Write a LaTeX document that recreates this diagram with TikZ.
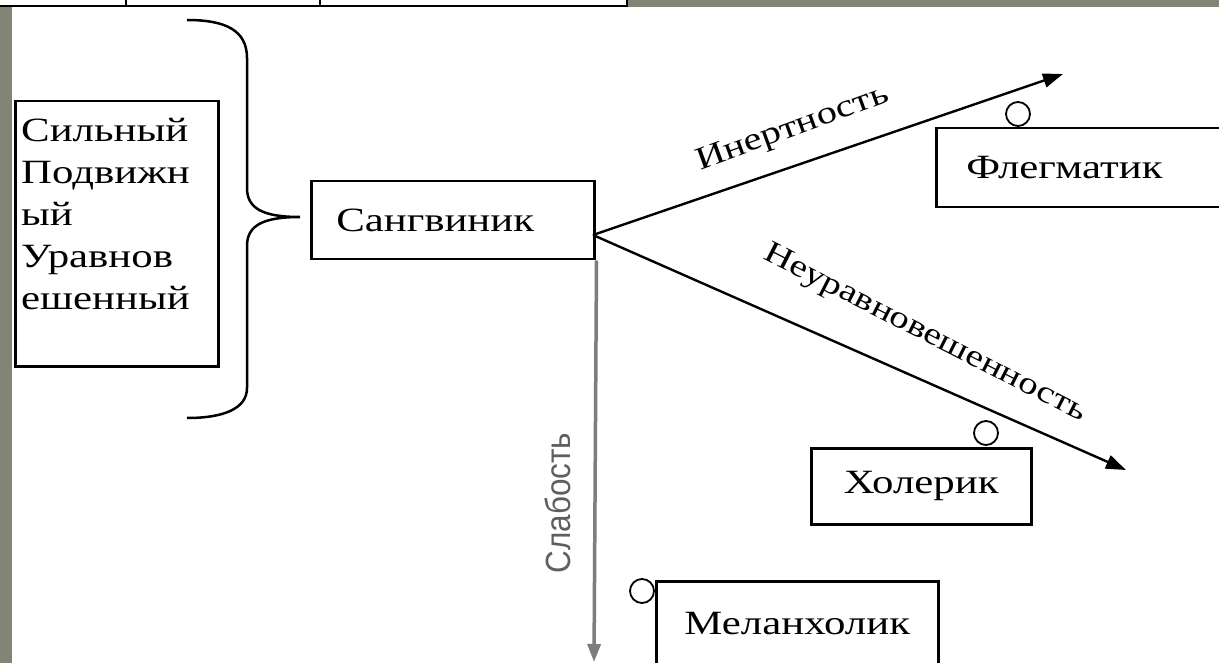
\documentclass[tikz,border=0pt]{standalone}
\usepackage{fontspec}
\setmainfont{Liberation Serif}
\newfontfamily\wideserif[FakeStretch=1.26]{Liberation Serif}
\newfontfamily\narrowsans[FakeStretch=0.9]{Liberation Sans}
\usetikzlibrary{arrows.meta}
\definecolor{framegreen}{RGB}{128,133,118}
\definecolor{arrowgray}{RGB}{125,125,125}
\definecolor{labelgray}{RGB}{95,95,95}
\begin{document}
\begin{tikzpicture}[x=1pt,y=-1pt,
  box/.style={draw, line width=2.5pt, fill=white, anchor=north west, inner sep=0pt},
  boxtext/.style={font=\wideserif\fontsize{34}{42}\selectfont},
  knob/.style={draw, circle, line width=1.8pt, fill=white, minimum size=24pt, inner sep=0pt},
  arr/.style={line width=2.4pt, -{Triangle[length=20pt,width=14pt]}},
  grayarr/.style={line width=3.5pt, arrowgray, -{Triangle[length=18pt,width=13pt]}},
  lbl/.style={font=\wideserif\fontsize{32}{32}\selectfont, inner sep=0pt}
]
\useasboundingbox (0,0) rectangle (1219,663);
\clip (0,0) rectangle (1219,663);
\fill[white] (0,0) rectangle (1219,663);
% frame of the slide
\fill[framegreen] (0,0) rectangle (1219,7);
\fill[framegreen] (0,7) rectangle (12,663);
% table fragment at the top
\fill[white] (0,0) rectangle (627,6);
\draw[line width=1.5pt] (0,6) -- (627,6);
\draw[line width=1.5pt] (126,0) -- (126,6);
\draw[line width=1.5pt] (320,0) -- (320,6);
\draw[line width=1.5pt] (627,0) -- (627,7);

% left box with qualities
\node[box, minimum width=203pt, minimum height=265pt] (qual) at (14,100) {};
\node[boxtext, anchor=north west, align=left, inner sep=0pt] (qualtext) at (21,118)
  {Сильный\\Подвижн\\ый\\Уравнов\\ешенный};

% brace
\draw[line width=2.5pt] (187,20) .. controls (225,20) and (247,30) .. (247,58)
  -- (247,188) .. controls (247,208) and (262,217) .. (300,217)
  .. controls (262,217) and (247,226) .. (247,246)
  -- (247,388) .. controls (247,408) and (225,418) .. (187,418);

% central box
\node[box, boxtext, minimum height=78pt, text width=233pt, inner xsep=25pt, align=left] (sang) at (310,180) {Сангвиник};
\coordinate (o) at (593,235);

% temperament boxes
\node[box, boxtext, minimum height=79pt, text width=262pt, inner xsep=30pt, align=left] (fleg) at (935,127) {Флегматик};
\node[box, boxtext, minimum width=220pt, minimum height=76pt] (khol) at (810,447) {Холерик};
\node[box, boxtext, minimum width=282pt, minimum height=84pt] (mel) at (655,580) {Меланхолик};

% knobs
\node[knob] (kf) at (1018,114) {};
\node[knob] (kh) at (986,433) {};
\node[knob] (km) at (642,591) {};

% arrow end points
\coordinate (tf) at (1063,74);
\coordinate (th) at (1126,470);
\coordinate (tm) at (594,662);

\draw[grayarr] (sang.south east) ++(1,0) coordinate (gs) (gs) -- (tm);
\draw[arr] (o) -- (tf);
\draw[arr] (o) -- (th);

% labels
\node[lbl, rotate=20] (linert) at (793,129) {Инертность};
\node[lbl, rotate=-27, font=\wideserif\fontsize{31}{31}\selectfont] (lneur) at (925,334) {Неуравновешенность};
\node[inner sep=0pt, rotate=90, text=labelgray, font=\narrowsans\fontsize{35}{35}\selectfont] (lslab) at (558,503) {Слабость};
\end{tikzpicture}
\end{document}
